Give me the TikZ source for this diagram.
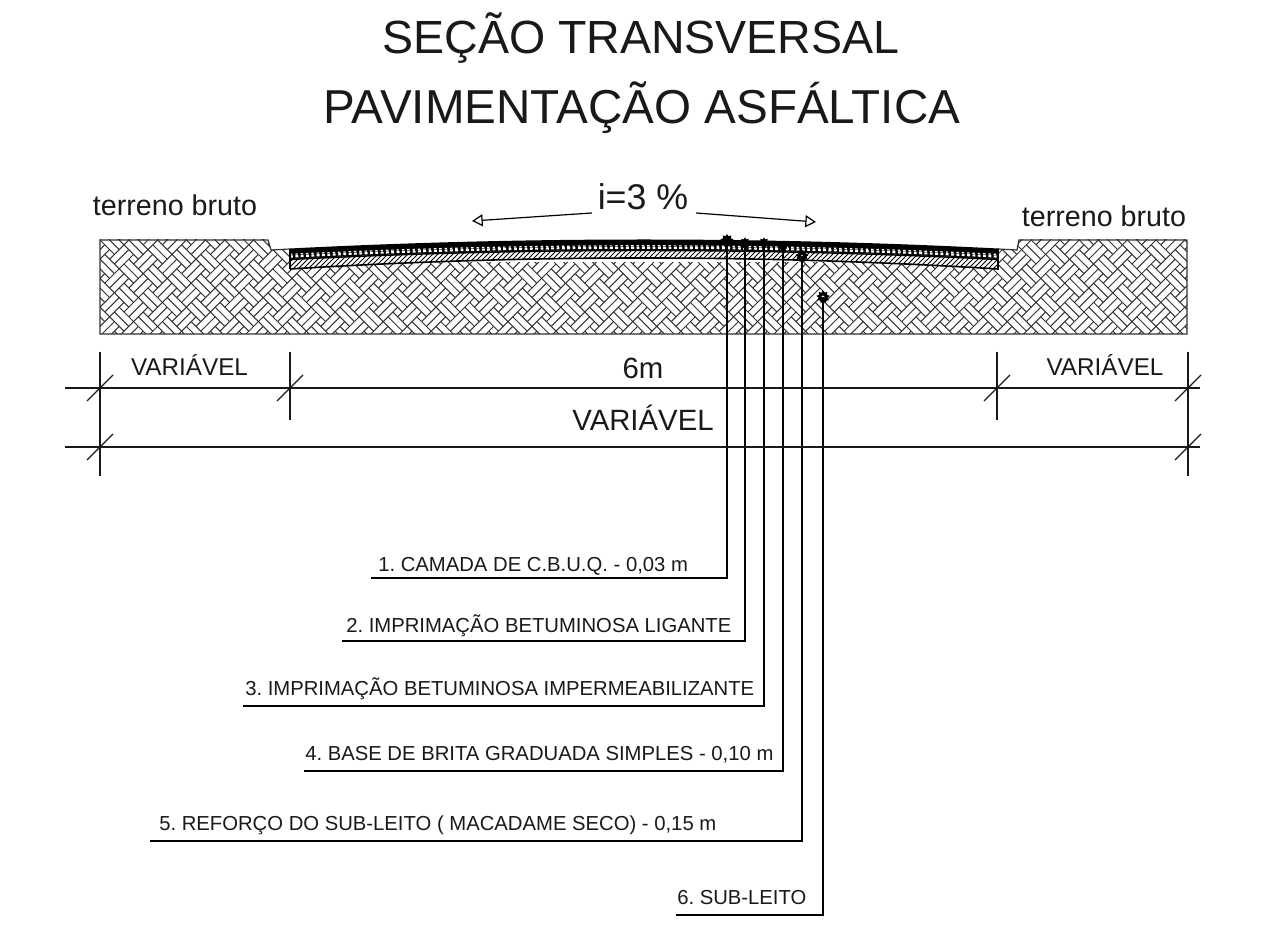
\documentclass[tikz,border=0pt]{standalone}
\usepackage{fontspec}
\setmainfont{Liberation Sans}
\frenchspacing
\usetikzlibrary{arrows.meta,shapes.geometric}
\tikzset{
 px/.style={x=0.75pt,y=-0.75pt},
 dimline/.style={line width=1.1pt,black!90},
 tickline/.style={line width=0.9pt,black!90},
 leader/.style={line width=1.1pt,black},
 outline/.style={line width=0.9pt,black!80},
 hatchline/.style={line width=0.75pt,black!80},
 txt/.style={inner sep=0pt,anchor=center,text=black!90},
 title/.style={txt,font=\fontsize{35.5}{40}\selectfont},
 lab/.style={txt,anchor=base west,font=\fontsize{15.2}{18}\selectfont},
 mid/.style={txt,font=\fontsize{18.2}{20}\selectfont},
 big/.style={txt,font=\fontsize{22}{24}\selectfont},
 markdot/.style={star,star points=9,star point ratio=1.5,fill=black,inner sep=0pt,minimum size=10pt},
 slope/.style={line width=0.9pt,-{Triangle[open,length=8pt,width=9pt]}}
}
% parabola from x=290 to x=998: edge height #1, crown height #2
\newcommand{\roadarc}[2]{(290,#1) .. controls ({290+236},{#1+4/3*(#2-#1)}) and ({998-236},{#1+4/3*(#2-#1)}) .. (998,#1)}
\newcommand{\roadback}[2]{(998,#1) .. controls ({998-236},{#1+4/3*(#2-#1)}) and ({290+236},{#1+4/3*(#2-#1)}) .. (290,#1)}
\begin{document}
\begin{tikzpicture}[px]
\useasboundingbox (0,0) rectangle (1271,944);
% ground hatch: pairs of woven bars, long sides only
\begin{scope}
\clip (100,240) rectangle (1187,334);
\foreach \n in {-3,...,47}{\foreach \j in {-6,...,3}{
  \pgfmathtruncatemacro{\m}{round(\n*0.2)+\j}
  \pgfmathsetmacro{\ox}{100+(\n*5+\m)*4.8}
  \pgfmathsetmacro{\oy}{240+(\n-\m*5)*4.8}
  \draw[hatchline] (\ox,\oy) -- ++(14.4,14.4);
  \draw[hatchline] ({\ox+4.8},{\oy-4.8}) -- ++(14.4,14.4);
  \draw[hatchline] ({\ox+9.6},{\oy-9.6}) -- ++(14.4,14.4);
  \draw[hatchline] ({\ox+9.6},{\oy+19.2}) -- ++(14.4,-14.4);
  \draw[hatchline] ({\ox+14.4},{\oy+24}) -- ++(14.4,-14.4);
  \draw[hatchline] ({\ox+19.2},{\oy+28.8}) -- ++(14.4,-14.4);
}}
\end{scope}
% cut for road
\fill[white] (268,230) -- (268,240) -- (271,250) -- (290,249) -- (290,262) -- (998,262) -- (998,249) -- (1017,250) -- (1019,240) -- (1019,230) -- cycle;
\fill[white] \roadarc{269}{258} -- (998,240) -- (290,240) -- cycle;
% ground outline
\draw[outline] (290,334) -- (100,334) -- (100,240) -- (268,240) -- (271,250) -- (290,249);
\draw[outline] (998,249) -- (1017,250) -- (1019,240) -- (1187,240) -- (1187,334) -- (290,334);
% gravel and asphalt
\fill[black] \roadarc{248.5}{239.5} -- \roadback{259}{250} -- cycle;
\draw[white,line width=1.6pt,dash pattern=on 2.2pt off 1.8pt] \roadarc{256.6}{247.8};
\draw[white,line width=0.9pt,dash pattern=on 1.8pt off 2.2pt] \roadarc{254.4}{245.8};
% hatch layer
\begin{scope}
\clip \roadarc{259}{250} -- \roadback{269}{258} -- cycle;
\foreach \k in {0,...,150}{\draw[line width=0.7pt] ({270+\k*5},272) -- ++(30,-30);}
\end{scope}
\draw[line width=1.1pt] \roadarc{259.5}{250.5};
\draw[line width=1.2pt] \roadarc{269}{258} -- (998,249);
\draw[line width=1.2pt] (290,249) -- (290,269);
% marks
\node[markdot] (m1) at (727,240.5) {};
\node[markdot,minimum size=8.5pt] (m2) at (745,243) {};
\node[markdot,minimum size=8.5pt] (m3) at (764,243) {};
\node[markdot,minimum size=7.5pt] (m4) at (783,246) {};
\node[markdot] (m5) at (802,256) {};
\node[markdot] (m6) at (823,297) {};
\fill[white] (m6) circle (1.6);
\fill[white] (m5) circle (1.2);
% labels
\node[lab] (t1) at (378,571) {1. CAMADA DE C.B.U.Q. - 0,03 m};
\node[lab] (t2) at (346,633) {2. IMPRIMAÇÃO BETUMINOSA LIGANTE};
\node[lab] (t3) at (245,695) {3. IMPRIMAÇÃO BETUMINOSA IMPERMEABILIZANTE};
\node[lab] (t4) at (305,760) {4. BASE DE BRITA GRADUADA SIMPLES - 0,10 m};
\node[lab] (t5) at (159,830) {5. REFORÇO DO SUB-LEITO ( MACADAME SECO) - 0,15 m};
\node[lab] (t6) at (677,904) {6. SUB-LEITO};
% leaders
\coordinate (e1) at (371,578);
\coordinate (e2) at (342,641);
\coordinate (e3) at (243,706);
\coordinate (e4) at (304,771);
\coordinate (e5) at (150,841);
\coordinate (e6) at (676,915);
\foreach \n in {1,...,6}{\draw[leader] (m\n.center) |- (e\n);}
% dimensions
\coordinate (a1) at (65,388); \coordinate (a2) at (1200,388);
\coordinate (b1) at (65,447); \coordinate (b2) at (1200,447);
\draw[dimline] (a1) -- (a2);
\draw[dimline] (b1) -- (b2);
\coordinate (v1) at (100,352); \coordinate (v1e) at (100,476);
\coordinate (v2) at (290,352); \coordinate (v2e) at (290,420);
\coordinate (v3) at (997,352); \coordinate (v3e) at (997,420);
\coordinate (v4) at (1188,352); \coordinate (v4e) at (1188,476);
\draw[tickline] (v1) -- (v1e);
\draw[tickline] (v2) -- (v2e);
\draw[tickline] (v3) -- (v3e);
\draw[tickline] (v4) -- (v4e);
\foreach \x/\y in {100/388,290/388,997/388,1188/388,100/447,1188/447}{
  \draw[tickline] (\x-13,\y+13) -- (\x+13,\y-13);}
% texts
\node[title,font=\fontsize{34.9}{40}\selectfont] (h1) at (641,38) {SEÇÃO TRANSVERSAL};
\node[title,font=\fontsize{35.7}{40}\selectfont] (h2) at (642,108) {PAVIMENTAÇÃO ASFÁLTICA};
\node[big,font=\fontsize{21.5}{24}\selectfont] (tb1) at (175,205) {terreno bruto};
\node[big,font=\fontsize{21.5}{24}\selectfont] (tb2) at (1104,216) {terreno bruto};
\node[txt,font=\fontsize{26.8}{28}\selectfont] (iv) at (643,197) {i=3 \%};
\coordinate (s1) at (592,213); \coordinate (s1e) at (472,221);
\coordinate (s2) at (696,213); \coordinate (s2e) at (816,222);
\draw[slope] (s1) -- (s1e);
\draw[slope] (s2) -- (s2e);
\node[mid] (v1t) at (189.5,365) {VARIÁVEL};
\node[mid] (v2t) at (1105,365) {VARIÁVEL};
\node[big] (w) at (643,368) {6m};
\node[big] (vv) at (643,418) {VARIÁVEL};
\end{tikzpicture}
\end{document}
